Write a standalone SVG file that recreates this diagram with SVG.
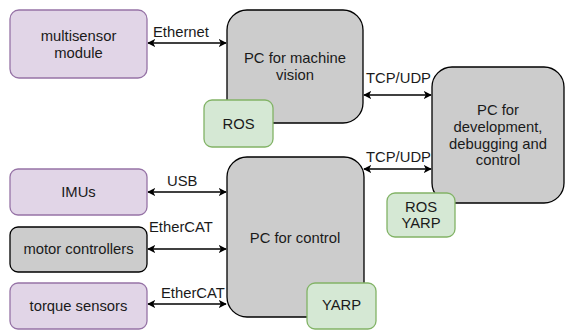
<svg xmlns="http://www.w3.org/2000/svg" width="565" height="330" viewBox="0 0 565 330">
<style>
text{font-family:"Liberation Sans",Arial,sans-serif;font-size:14.8px;fill:#1a1a1a;text-anchor:middle}
.lbl{text-anchor:start}
.purple{fill:#e1d5e7;stroke:#9673a6;stroke-width:1.3}
.green{fill:#d5e8d4;stroke:#82b366;stroke-width:1.3}
.gray{fill:#cccccc;stroke:#000;stroke-width:1.3}
.conn{stroke:#000;stroke-width:1.3;fill:none;marker-start:url(#ah);marker-end:url(#ah)}
</style>
<defs>
<marker id="ah" viewBox="0 0 10 10" refX="9" refY="5" markerWidth="8" markerHeight="8" markerUnits="userSpaceOnUse" orient="auto-start-reverse">
<path d="M0,0 L10,5 L0,10 L2.5,5 Z" fill="#000"/>
</marker>
</defs>
<rect width="565" height="330" fill="#fff"/>
<g id="connectors">
<path class="conn" d="M148,43 H226"/>
<path class="conn" d="M364,95 H431"/>
<path class="conn" d="M364,169 H431"/>
<path class="conn" d="M148,192 H226"/>
<path class="conn" d="M148,249 H226"/>
<path class="conn" d="M148,304 H226"/>
<text class="lbl" x="153" y="37">Ethernet</text>
<text class="lbl" x="366" y="83">TCP/UDP</text>
<text class="lbl" x="366" y="162">TCP/UDP</text>
<text class="lbl" x="167" y="186">USB</text>
<text class="lbl" x="149" y="232">EtherCAT</text>
<text class="lbl" x="161" y="298">EtherCAT</text>
</g>
<g id="multisensor">
<rect class="purple" x="10" y="10" width="137" height="68" rx="9"/>
<text x="78.5" y="41">multisensor</text>
<text x="78.5" y="58">module</text>
</g>
<g id="pc-vision">
<rect class="gray" x="227" y="10" width="136" height="113" rx="20"/>
<text x="295" y="63">PC for machine</text>
<text x="295" y="80">vision</text>
</g>
<g id="ros1">
<rect class="green" x="204" y="100" width="69" height="47" rx="8"/>
<text x="238.5" y="128.5">ROS</text>
</g>
<g id="pc-dev">
<rect class="gray" x="432" y="67" width="132" height="136" rx="20"/>
<text x="498" y="115">PC for</text>
<text x="498" y="132">development,</text>
<text x="498" y="148.5">debugging and</text>
<text x="498" y="165">control</text>
</g>
<g id="rosyarp">
<rect class="green" x="387" y="193" width="68" height="44" rx="8"/>
<text x="421" y="212">ROS</text>
<text x="421" y="228">YARP</text>
</g>
<g id="pc-control">
<rect class="gray" x="227" y="157" width="137" height="160" rx="20"/>
<text x="295" y="243">PC for control</text>
</g>
<g id="yarp">
<rect class="green" x="307" y="283" width="69" height="46" rx="8"/>
<text x="341.5" y="310">YARP</text>
</g>
<g id="imus">
<rect class="purple" x="10" y="169" width="137" height="46" rx="8"/>
<text x="78.5" y="197">IMUs</text>
</g>
<g id="motor">
<rect class="gray" x="10" y="227" width="137" height="45" rx="8"/>
<text x="78.5" y="254">motor controllers</text>
</g>
<g id="torque">
<rect class="purple" x="10" y="283" width="137" height="46" rx="8"/>
<text x="78.5" y="311">torque sensors</text>
</g>
</svg>
